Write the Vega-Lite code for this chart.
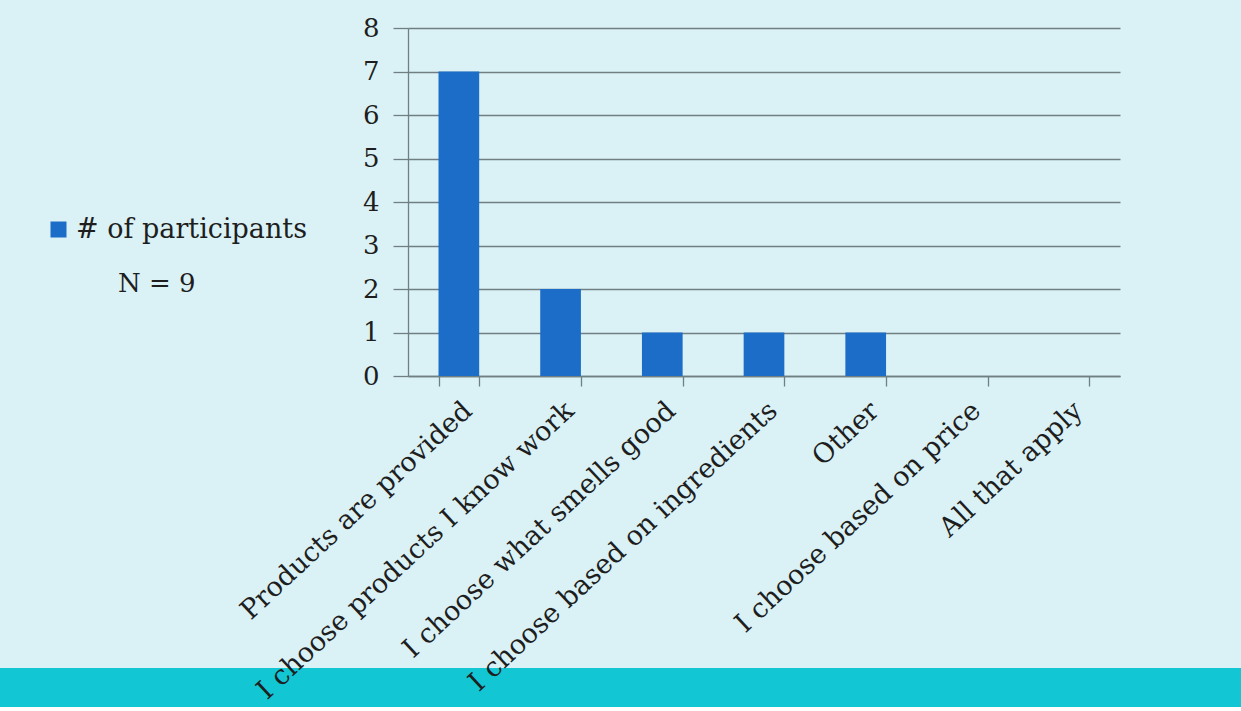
{
  "$schema": "https://vega.github.io/schema/vega-lite/v6.json",
  "background": "#daf2f6",
  "padding": {"left": 0, "top": 15, "right": 0, "bottom": 0},
  "config": {
    "view": {"stroke": null},
    "font": "DejaVu Serif",
    "axis": {"labelFont": "DejaVu Serif", "labelColor": "#1e1e1e", "domainColor": "#6f7f82", "tickColor": "#6f7f82", "gridColor": "#6f7f82"}
  },
  "bounds": "flush",
  "spacing": 0,
  "datasets": {
    "responses": [
      {"answer": "Products are provided", "count": 7, "series": "# of participants"},
      {"answer": "I choose products I know work", "count": 2, "series": "# of participants"},
      {"answer": "I choose what smells good", "count": 1, "series": "# of participants"},
      {"answer": "I choose based on ingredients", "count": 1, "series": "# of participants"},
      {"answer": "Other", "count": 1, "series": "# of participants"},
      {"answer": "I choose based on price", "count": 0, "series": "# of participants"},
      {"answer": "All that apply", "count": 0, "series": "# of participants"}
    ]
  },
  "vconcat": [
    {
      "bounds": "flush",
      "spacing": 0,
      "vconcat": [
        {
          "width": 1241,
          "height": 640,
          "data": {"values": []},
          "mark": "rect",
          "encoding": {}
        },
        {
          "width": 1241,
          "height": 39,
          "data": {"values": []},
          "mark": "rect",
          "encoding": {},
          "view": {"fill": "#12c6d4", "stroke": null}
        }
      ]
    },
    {
      "bounds": "flush",
      "spacing": 0,
      "hconcat": [
        {
          "width": 408,
          "height": 348,
          "data": {"values": []},
          "mark": "rect",
          "encoding": {},
          "title": {
            "text": "N = 9",
            "orient": "top",
            "anchor": "start",
            "frame": "group",
            "offset": 0,
            "baseline": "alphabetic",
            "dx": 118,
            "dy": 290,
            "font": "DejaVu Serif",
            "fontSize": 26,
            "fontWeight": "normal",
            "color": "#1e1e1e"
          }
        },
        {
          "width": 712,
          "height": 348,
          "data": {"name": "responses"},
          "mark": {"type": "bar", "color": "#1b6dc8"},
          "encoding": {
            "x": {
              "field": "answer",
              "type": "nominal",
              "sort": null,
              "scale": {"paddingInner": 0.6, "paddingOuter": 0.3},
              "axis": {
                "title": null,
                "tickBand": "extent",
                "tickSize": 10,
                "tickWidth": 1.3,
                "domainWidth": 1.3,
                "labelAngle": -43,
                "labelAlign": "right",
                "labelBaseline": "top",
                "labelPadding": 11,
                "labelFontSize": 27,
                "labelLimit": 0,
                "grid": false
              }
            },
            "y": {
              "field": "count",
              "type": "quantitative",
              "scale": {"domain": [0, 8]},
              "axis": {
                "title": null,
                "values": [0, 1, 2, 3, 4, 5, 6, 7, 8],
                "grid": true,
                "gridWidth": 1.3,
                "domainWidth": 1.3,
                "tickWidth": 1.3,
                "tickSize": 15,
                "labelPadding": 14,
                "labelFontSize": 26
              }
            },
            "color": {
              "field": "series",
              "type": "nominal",
              "scale": {"range": ["#1b6dc8"]},
              "legend": {
                "title": null,
                "orient": "none",
                "legendX": 45,
                "legendY": 188,
                "padding": 0,
                "symbolType": "square",
                "symbolSize": 256,
                "symbolStrokeWidth": 0,
                "labelFont": "DejaVu Serif",
                "labelFontSize": 27,
                "labelColor": "#1e1e1e",
                "labelOffset": 4,
                "labelLimit": 0
              }
            }
          }
        }
      ]
    }
  ]
}
